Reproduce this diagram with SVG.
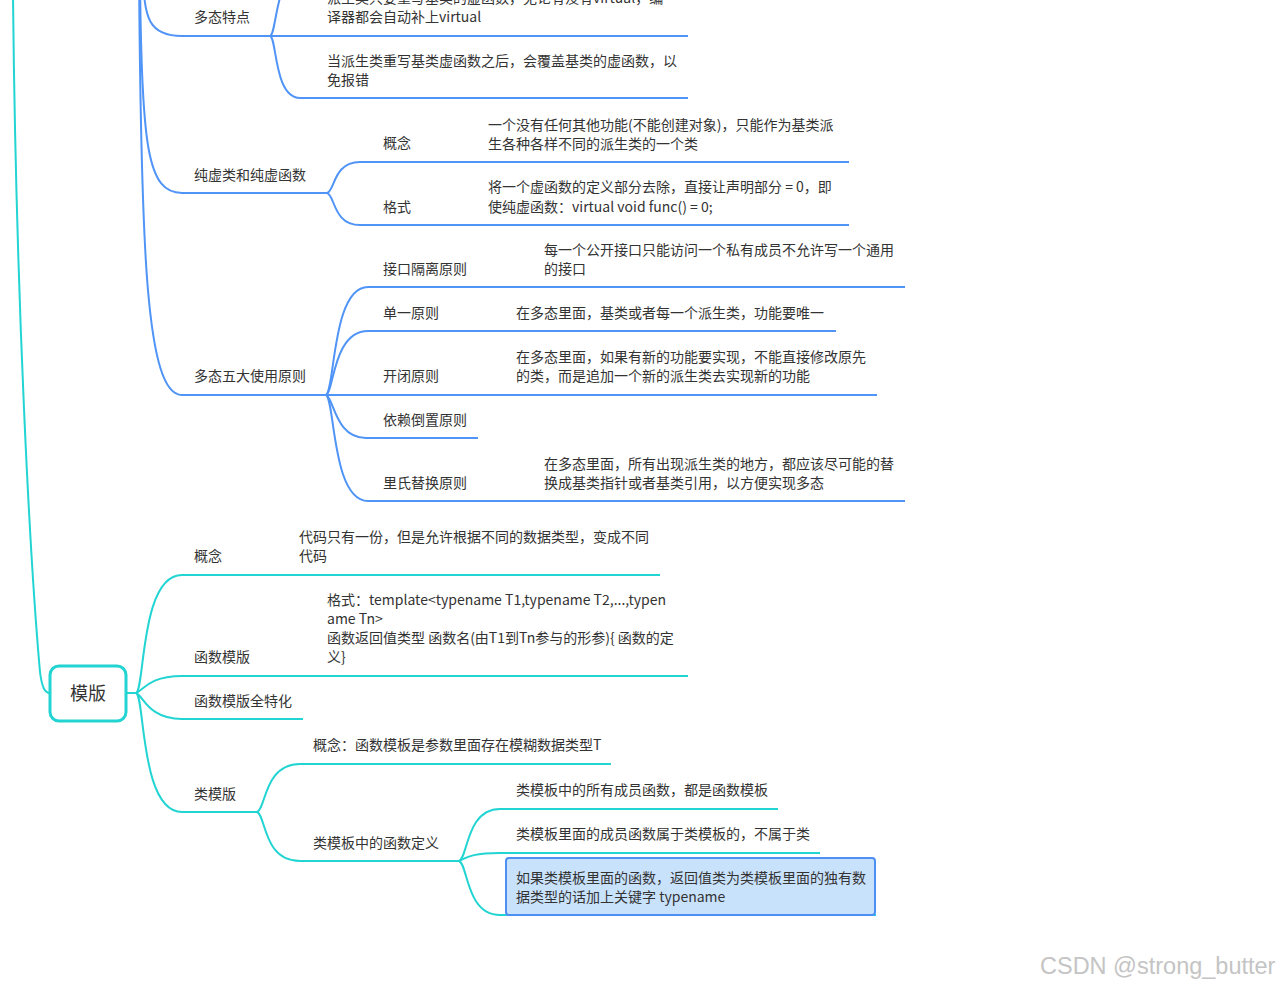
<svg xmlns="http://www.w3.org/2000/svg" width="1278" height="987" viewBox="0 0 1278 987">
<style>
.b{fill:none;stroke:#4f94f6;stroke-width:2}
.t{fill:none;stroke:#22d4d2;stroke-width:2}
text{font-family:"Noto Sans CJK SC","Noto Sans",sans-serif;font-size:14px;fill:#333}
.root{font-size:18px;text-anchor:middle}
.wm{font-family:"Liberation Sans",Arial,sans-serif;font-size:23.5px;fill:#c4c4c4}
</style>
<rect width="1278" height="987" fill="#fff"/>
<g id="connectors">
  <path class="t" d="M13,-5 C16,300 30,560 40,672 C42,688 45,693 50,693"/>
  <path class="b" d="M143,-30 C143,20 150,36 182,36 L688,36"/>
  <path class="b" d="M270,36 C277,34 275,-26 300,-26"/>
  <path class="b" d="M270,36 C277,38 274,98 300,98 L688,98"/>
  <path class="b" d="M140,-30 C141,150 148,193 182,193 L327,193"/>
  <path class="b" d="M327,193 C335,191 333,162 360,162 L849,162"/>
  <path class="b" d="M327,193 C335,195 333,225 360,225 L849,225"/>
  <path class="b" d="M139,-30 C141,250 146,395 182,395 L877,395"/>
  <path class="b" d="M326,395 C335,390 332,287 368,287 L905,287"/>
  <path class="b" d="M326,395 C334,392 333,331 368,331 L836,331"/>
  <path class="b" d="M326,395 C334,398 335,438 366,438 L478,438"/>
  <path class="b" d="M326,395 C335,400 332,501 368,501 L905,501"/>
  <path class="t" d="M126,693 L136,693"/>
  <path class="t" d="M136,693 C145,690 140,575 182,575 L660,575"/>
  <path class="t" d="M136,693 C143,691 148,676 182,676 L688,676"/>
  <path class="t" d="M136,693 C143,695 148,719 182,719 L303,719"/>
  <path class="t" d="M136,693 C145,696 140,812 182,812 L257,812"/>
  <path class="t" d="M257,812 C266,809 264,764 300,764 L611,764"/>
  <path class="t" d="M257,812 C266,815 263,861 300,861 L459,861"/>
  <path class="t" d="M459,861 C468,858 466,809 500,809 L778,809"/>
  <path class="t" d="M459,861 C466,858 470,853 500,853 L820,853"/>
  <path class="t" d="M459,861 C468,864 466,915 500,915 L876,915"/>
</g>
<g id="n-duotai-tedian"><text x="194" y="22">多态特点</text></g>
<g id="n-td1"><text x="327" y="3">派生类只要重写基类的虚函数，无论有没有virtual，编</text><text x="327" y="22">译器都会自动补上virtual</text></g>
<g id="n-td2"><text x="327" y="66">当派生类重写基类虚函数之后，会覆盖基类的虚函数，以</text><text x="327" y="85">免报错</text></g>
<g id="n-chunxu"><text x="194" y="180">纯虚类和纯虚函数</text></g>
<g id="n-cx-gn"><text x="383" y="148">概念</text></g>
<g id="n-cx-gn-t"><text x="488" y="130">一个没有任何其他功能(不能创建对象)，只能作为基类派</text><text x="488" y="149">生各种各样不同的派生类的一个类</text></g>
<g id="n-cx-gs"><text x="383" y="212">格式</text></g>
<g id="n-cx-gs-t"><text x="488" y="192">将一个虚函数的定义部分去除，直接让声明部分 = 0，即</text><text x="488" y="212">使纯虚函数：virtual void func() = 0;</text></g>
<g id="n-wuda"><text x="194" y="381">多态五大使用原则</text></g>
<g id="n-jkgl"><text x="383" y="274">接口隔离原则</text><text x="544" y="255">每一个公开接口只能访问一个私有成员不允许写一个通用</text><text x="544" y="274">的接口</text></g>
<g id="n-dy"><text x="383" y="318">单一原则</text><text x="516" y="318">在多态里面，基类或者每一个派生类，功能要唯一</text></g>
<g id="n-kb"><text x="383" y="381">开闭原则</text><text x="516" y="362">在多态里面，如果有新的功能要实现，不能直接修改原先</text><text x="516" y="381">的类，而是追加一个新的派生类去实现新的功能</text></g>
<g id="n-ylzd"><text x="383" y="425">依赖倒置原则</text></g>
<g id="n-lsth"><text x="383" y="488">里氏替换原则</text><text x="544" y="469">在多态里面，所有出现派生类的地方，都应该尽可能的替</text><text x="544" y="488">换成基类指针或者基类引用，以方便实现多态</text></g>
<g id="n-muban">
  <rect x="50" y="666" width="76" height="55" rx="9" fill="#fff" stroke="#22d4d2" stroke-width="3"/>
  <text class="root" x="88" y="700">模版</text>
</g>
<g id="n-mb-gn"><text x="194" y="561">概念</text><text x="299" y="542">代码只有一份，但是允许根据不同的数据类型，变成不同</text><text x="299" y="561">代码</text></g>
<g id="n-hsmb"><text x="194" y="662">函数模版</text><text x="327" y="605">格式：template&lt;typename T1,typename T2,...,typen</text><text x="327" y="624">ame Tn&gt;</text><text x="327" y="643">函数返回值类型 函数名(由T1到Tn参与的形参){ 函数的定</text><text x="327" y="662">义}</text></g>
<g id="n-qth"><text x="194" y="706">函数模版全特化</text></g>
<g id="n-lmb"><text x="194" y="799">类模版</text></g>
<g id="n-lmb-gn"><text x="313" y="750">概念：函数模板是参数里面存在模糊数据类型T</text></g>
<g id="n-lmb-dy"><text x="313" y="848">类模板中的函数定义</text></g>
<g id="n-lmb-1"><text x="516" y="795">类模板中的所有成员函数，都是函数模板</text></g>
<g id="n-lmb-2"><text x="516" y="839">类模板里面的成员函数属于类模板的，不属于类</text></g>
<g id="n-lmb-3">
  <rect x="506" y="858" width="369" height="57" rx="3" fill="#c9e2fc" stroke="#4d8ff3" stroke-width="2"/>
  <text x="516" y="883">如果类模板里面的函数，返回值类为类模板里面的独有数</text><text x="516" y="902">据类型的话加上关键字 typename</text>
</g>
<text class="wm" x="1040" y="974">CSDN @strong_butter</text>
</svg>
